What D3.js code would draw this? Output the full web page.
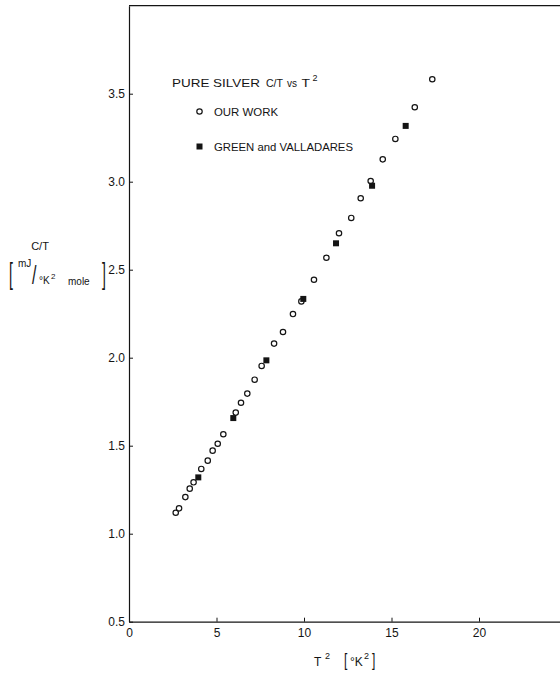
<!DOCTYPE html>
<html>
<head>
<meta charset="utf-8">
<script src="https://cdn.jsdelivr.net/npm/d3@7"></script>
<style>
  html, body { margin: 0; padding: 0; background: #fff; }
  svg { display: block; }
  text { font-family: "Liberation Sans", Arial, sans-serif; fill: #141414; }
</style>
</head>
<body>
<svg id="chart" width="560" height="673"></svg>
<script>
// Pure silver: C/T against T^2
// Our measurements (T^2 in K^2, C/T in mJ/K^2 mole)
const ourT2 = [2.67, 2.86, 3.22, 3.47, 3.69, 4.13, 4.50, 4.78, 5.07, 5.39,
               6.10, 6.40, 6.76, 7.18, 7.58, 8.29, 8.80, 9.37, 9.85, 10.57,
               11.28, 12.00, 12.70, 13.24, 13.81, 14.50, 15.22, 16.33, 17.33];
const ourCT = [1.119, 1.144, 1.208, 1.256, 1.292, 1.368, 1.415, 1.472, 1.511, 1.565,
               1.688, 1.744, 1.796, 1.875, 1.953, 2.080, 2.146, 2.248, 2.320, 2.443,
               2.568, 2.707, 2.794, 2.906, 3.004, 3.127, 3.243, 3.423, 3.582];
// Green and Valladares
const gvT2 = [3.96, 5.96, 7.85, 9.96, 11.83, 13.89, 15.81];
const gvCT = [1.320, 1.657, 1.985, 2.334, 2.650, 2.977, 3.317];

const xTicks = [0, 5, 10, 15, 20];
const xTickLabels = ["0", "5", "10", "15", "20"];
const yTicks = [0.5, 1.0, 1.5, 2.0, 2.5, 3.0, 3.5];
const yTickLabels = ["0.5", "1.0", "1.5", "2.0", "2.5", "3.0", "3.5"];

const svg = d3.select("#chart");
const ink = "#141414";

const x = d3.scaleLinear().domain([0, 25]).range([129, 566.5]);
const y = d3.scaleLinear().domain([0.5, 4.0]).range([621.7, 5.7]);

// top frame line
svg.append("line")
  .attr("x1", x(0)).attr("x2", 560)
  .attr("y1", y(4.0)).attr("y2", y(4.0))
  .attr("stroke", ink).attr("stroke-width", 1.2);

// bottom axis, ticks pointing inward
const xAxis = svg.append("g")
  .attr("transform", `translate(0,${y(0.5)})`)
  .call(d3.axisBottom(x)
    .tickValues(xTicks)
    .tickFormat((d, i) => xTickLabels[i])
    .tickSizeInner(-4).tickSizeOuter(0).tickPadding(6.5));

// left axis, ticks pointing inward
const yAxis = svg.append("g")
  .attr("transform", `translate(${x(0)},0)`)
  .call(d3.axisLeft(y)
    .tickValues(yTicks)
    .tickFormat((d, i) => yTickLabels[i])
    .tickSizeInner(-4).tickSizeOuter(0).tickPadding(4));

[xAxis, yAxis].forEach(g => {
  g.select(".domain").attr("stroke", ink).attr("stroke-width", 1.2);
  g.selectAll(".tick line").attr("stroke", ink).attr("stroke-width", 1);
  g.selectAll(".tick text")
    .attr("font-family", "Liberation Sans, Arial, sans-serif")
    .attr("font-size", 12).attr("fill", ink);
});
xAxis.selectAll(".tick").filter(d => d === 0).select("line").remove();

// data: open circles
svg.append("g").selectAll("circle")
  .data(ourT2.map((t, i) => [t, ourCT[i]]))
  .join("circle")
  .attr("cx", d => x(d[0])).attr("cy", d => y(d[1]))
  .attr("r", 2.7)
  .attr("fill", "#fff").attr("stroke", ink).attr("stroke-width", 1.2);

// data: filled squares
const sq = 6;
svg.append("g").selectAll("rect")
  .data(gvT2.map((t, i) => [t, gvCT[i]]))
  .join("rect")
  .attr("x", d => x(d[0]) - sq / 2).attr("y", d => y(d[1]) - sq / 2)
  .attr("width", sq).attr("height", sq)
  .attr("fill", ink);

// legend
const lg = svg.append("g");
lg.append("text").attr("x", 172).attr("y", 87).attr("font-size", 11)
  .attr("textLength", 88).attr("lengthAdjust", "spacingAndGlyphs").text("PURE SILVER");
lg.append("text").attr("x", 266).attr("y", 87).attr("font-size", 11)
  .attr("textLength", 17).attr("lengthAdjust", "spacingAndGlyphs").text("C/T");
lg.append("text").attr("x", 287).attr("y", 87).attr("font-size", 10).text("vs");
lg.append("text").attr("x", 301.5).attr("y", 87).attr("font-size", 11)
  .attr("textLength", 8.5).attr("lengthAdjust", "spacingAndGlyphs").text("T");
lg.append("text").attr("x", 312.5).attr("y", 81).attr("font-size", 9).text("2");

lg.append("circle").attr("cx", 199.5).attr("cy", 111.5).attr("r", 2.7)
  .attr("fill", "#fff").attr("stroke", ink).attr("stroke-width", 1.2);
lg.append("text").attr("x", 214).attr("y", 115.5).attr("font-size", 11)
  .attr("textLength", 64).attr("lengthAdjust", "spacingAndGlyphs").text("OUR WORK");
lg.append("rect").attr("x", 199.5 - sq / 2).attr("y", 146.5 - sq / 2)
  .attr("width", sq).attr("height", sq).attr("fill", ink);
lg.append("text").attr("x", 214).attr("y", 150.5).attr("font-size", 11)
  .attr("textLength", 139).attr("lengthAdjust", "spacingAndGlyphs").text("GREEN and VALLADARES");

// tall thin glyph: normal glyph stretched vertically
function stretched(g, ch, bx, baseline, size, stretch) {
  g.append("text")
    .attr("transform", `translate(${bx},${baseline}) scale(1,${stretch})`)
    .attr("font-size", size).text(ch);
}

// y-axis title
const yt = svg.append("g");
yt.append("text").attr("x", 40).attr("y", 250).attr("font-size", 11)
  .attr("text-anchor", "middle").text("C/T");
stretched(yt, "[", 9, 284, 14, 2.1);
yt.append("text").attr("x", 18).attr("y", 267).attr("font-size", 10).text("mJ");
stretched(yt, "/", 32, 284, 16, 1.6);
yt.append("text").attr("x", 39).attr("y", 284).attr("font-size", 10).text("°K");
yt.append("text").attr("x", 51).attr("y", 279).attr("font-size", 8).text("2");
yt.append("text").attr("x", 68).attr("y", 285).attr("font-size", 10).text("mole");
stretched(yt, "]", 102, 284, 14, 2.1);

// x-axis title
const xt = svg.append("g");
xt.append("text").attr("x", 314).attr("y", 666).attr("font-size", 12).text("T");
xt.append("text").attr("x", 325).attr("y", 659).attr("font-size", 9).text("2");
stretched(xt, "[", 344, 666, 12, 1.5);
xt.append("text").attr("x", 350).attr("y", 666).attr("font-size", 12).text("°K");
xt.append("text").attr("x", 364).attr("y", 659).attr("font-size", 9).text("2");
stretched(xt, "]", 372, 666, 12, 1.5);
</script>
</body>
</html>
